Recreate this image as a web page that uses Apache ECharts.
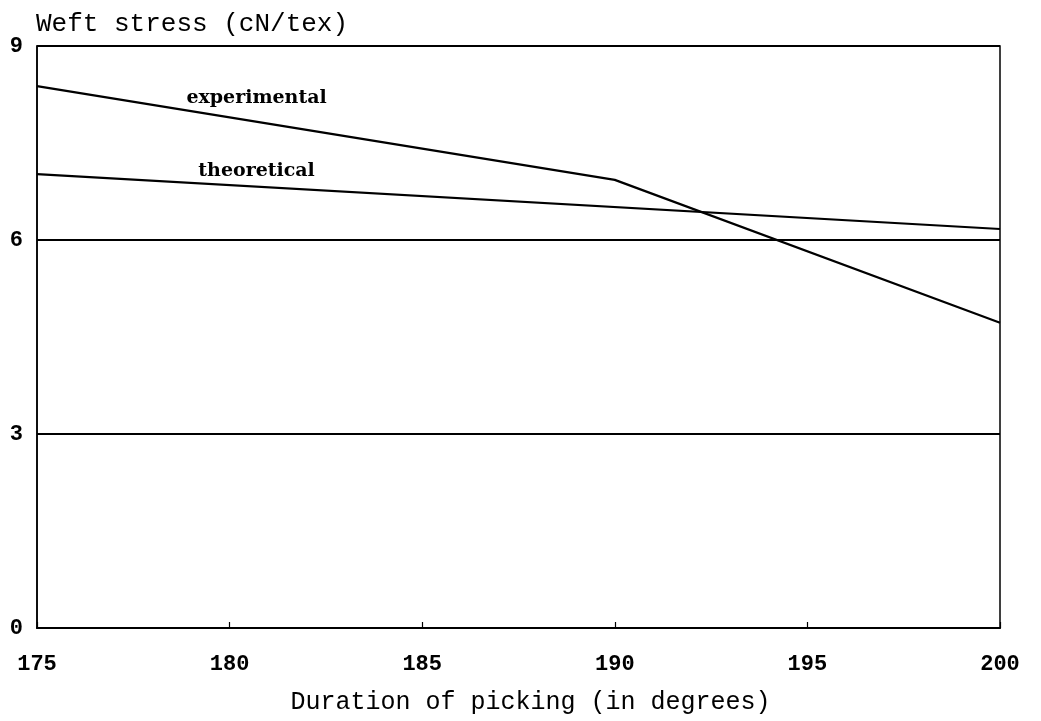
<!DOCTYPE html>
<html><head><meta charset="utf-8">
<script src="https://cdn.jsdelivr.net/npm/echarts@6/dist/echarts.min.js"></script>
<style>html,body{margin:0;padding:0;background:#fff}#c{width:1041px;height:721px}</style>
</head><body><div id="c"></div>
<script>
const xValues = [175, 190, 200];
const experimental = [8.38, 6.93, 4.72];
const theoreticalX = [175, 200];
const theoretical = [7.02, 6.17];
const labels = [
  {text: 'experimental', x: 180.7, y: 8.2},
  {text: 'theoretical', x: 180.7, y: 7.06}
];
const MONO = 'Liberation Mono';
const SERIF = 'DejaVu Serif';
const labelStyle = {show: true, formatter: '{b}', position: 'inside', fontFamily: SERIF, fontSize: 19, fontWeight: 'bold', color: '#000'};
const chart = echarts.init(document.getElementById('c'));
chart.setOption({
  animation: false,
  backgroundColor: '#fff',
  grid: {left: 37, right: 41, top: 46, bottom: 93, show: true, borderColor: '#000', borderWidth: 1.5},
  xAxis: {
    type: 'value', min: 175, max: 200, interval: 5,
    name: 'Duration of picking (in degrees)', nameLocation: 'middle', nameGap: 62,
    nameTextStyle: {fontFamily: MONO, fontSize: 25, color: '#000', padding: [0, 0, 0, 24]},
    axisLine: {lineStyle: {color: '#000', width: 2}},
    axisTick: {inside: true, length: 6, lineStyle: {color: '#000', width: 1.2}},
    axisLabel: {fontFamily: MONO, fontSize: 22, fontWeight: 'bold', color: '#000', margin: 25},
    splitLine: {show: false}
  },
  yAxis: {
    type: 'value', min: 0, max: 9, interval: 3,
    name: 'Weft stress (cN/tex)', nameLocation: 'end', nameGap: 9,
    nameTextStyle: {fontFamily: MONO, fontSize: 26, color: '#000', align: 'left', padding: [0, 0, 0, -1]},
    axisLine: {show: true, lineStyle: {color: '#000', width: 1.5}},
    axisTick: {show: false},
    axisLabel: {fontFamily: MONO, fontSize: 22, fontWeight: 'bold', color: '#000', margin: 14},
    splitLine: {show: true, lineStyle: {color: '#000', width: 1.8}}
  },
  series: [
    {
      type: 'line', name: 'experimental', symbol: 'none',
      data: xValues.map((x, i) => [x, experimental[i]]),
      lineStyle: {color: '#000', width: 2.2},
      markPoint: {symbol: 'circle', symbolSize: 1, itemStyle: {color: 'rgba(0,0,0,0)'}, label: labelStyle,
        data: [{name: labels[0].text, coord: [labels[0].x, labels[0].y]}]}
    },
    {
      type: 'line', name: 'theoretical', symbol: 'none',
      data: theoreticalX.map((x, i) => [x, theoretical[i]]),
      lineStyle: {color: '#000', width: 2.2},
      markPoint: {symbol: 'circle', symbolSize: 1, itemStyle: {color: 'rgba(0,0,0,0)'}, label: labelStyle,
        data: [{name: labels[1].text, coord: [labels[1].x, labels[1].y]}]}
    }
  ]
});
</script></body></html>
